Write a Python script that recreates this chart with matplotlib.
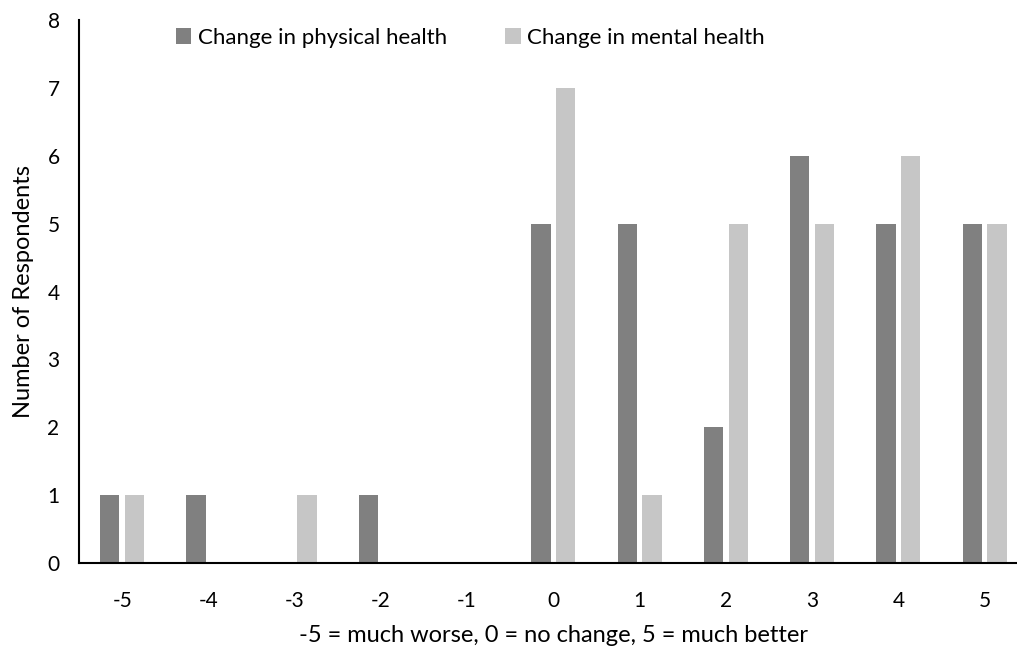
import numpy as np
import matplotlib.pyplot as plt

# Data
categories = [-5, -4, -3, -2, -1, 0, 1, 2, 3, 4, 5]
physical = [1, 1, 0, 1, 0, 5, 5, 2, 6, 5, 5]
mental = [1, 0, 1, 0, 0, 7, 1, 5, 5, 6, 5]

plt.rcParams['font.family'] = ['Lato', 'DejaVu Sans']

fig = plt.figure(figsize=(10.17, 6.5), dpi=100)
# right edge of the plot runs a little past the image, as in the original
ax = fig.add_axes([79 / 1017, 87 / 650, 948.75 / 1017, 543 / 650])

x = np.arange(len(categories))
w = 0.224
ax.bar(x - 0.143, physical, width=w, color='#808080', label='Change in physical health')
ax.bar(x + 0.143, mental, width=w, color='#c6c6c6', label='Change in mental health')

ax.set_xlim(-0.5, len(categories) - 0.5)
ax.set_ylim(0, 8)
ax.set_xticks(x)
ax.set_xticklabels([str(c) for c in categories])
ax.set_yticks(range(0, 9))
ax.tick_params(axis='both', length=0, labelsize=15, colors='black')
ax.tick_params(axis='x', pad=20)
ax.tick_params(axis='y', pad=14)

for s in ['top', 'right']:
    ax.spines[s].set_visible(False)
for s in ['left', 'bottom']:
    ax.spines[s].set_linewidth(1.5)

ax.set_xlabel('-5 = much worse, 0 = no change, 5 = much better', fontsize=17, labelpad=10)
ax.set_ylabel('Number of Respondents', fontsize=17, labelpad=10)

ax.legend(loc='upper left', bbox_to_anchor=(0.081, 1.022), ncol=2, frameon=False,
          fontsize=16, handlelength=0.7, handleheight=0.7, handletextpad=0.3,
          columnspacing=2.6)

fig.savefig('out.png', dpi=100)
